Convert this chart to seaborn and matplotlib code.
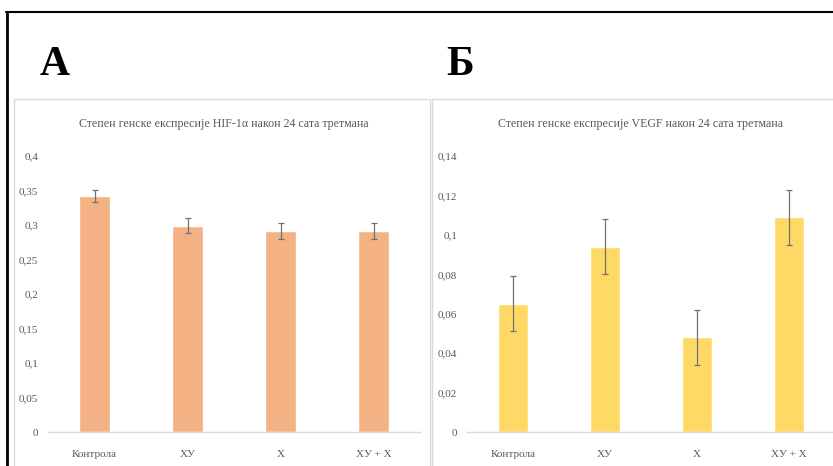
import matplotlib
matplotlib.use("Agg")
import matplotlib.pyplot as plt
from matplotlib.patches import Rectangle
from matplotlib.lines import Line2D
from matplotlib.ticker import FuncFormatter
import seaborn as sns
import pandas as pd

categories = ["Контрола", "ХУ", "Х", "ХУ + Х"]
hif_values = [0.342, 0.299, 0.291, 0.291]
hif_errors = [0.009, 0.011, 0.012, 0.012]
vegf_values = [0.065, 0.094, 0.048, 0.109]
vegf_errors = [0.014, 0.014, 0.014, 0.014]
hif_ticks = [0, 0.05, 0.1, 0.15, 0.2, 0.25, 0.3, 0.35, 0.4]
vegf_ticks = [0, 0.02, 0.04, 0.06, 0.08, 0.1, 0.12, 0.14]
hif_title = "Степен генске експресије HIF-1α након 24 сата третмана"
vegf_title = "Степен генске експресије VEGF након 24 сата третмана"
panel_labels = ["А", "Б"]

sns.set_theme(style="white")
plt.rcParams["font.family"] = ["Liberation Serif", "DejaVu Serif"]

W, H = 833, 466
fig = plt.figure(figsize=(W / 100, H / 100), dpi=100)
fig.patch.set_facecolor("white")

def fx(px):
    return px / W

def fy(py):
    return 1 - py / H

# outer frame (left and top edges)
fig.add_artist(Line2D([fx(7), fx(7)], [fy(12), fy(470)], color="black", lw=2.0,
                      transform=fig.transFigure))
fig.add_artist(Line2D([fx(6), fx(840)], [fy(12), fy(12)], color="black", lw=1.5,
                      transform=fig.transFigure))

# chart area boxes
for x0, x1 in [(14, 430), (432, 845)]:
    fig.add_artist(Rectangle((fx(x0), fy(470)), fx(x1) - fx(x0), fy(99) - fy(470),
                             transform=fig.transFigure, facecolor="white",
                             edgecolor="#d9d9d9", lw=1.0, zorder=0))

fig.text(fx(40), fy(65), panel_labels[0], fontsize=30, fontweight="bold",
         va="center", ha="left", color="black")
fig.text(fx(446), fy(65), panel_labels[1], fontsize=30, fontweight="bold",
         va="center", ha="left", color="black")

comma = FuncFormatter(lambda v, p: ("%g" % round(v, 4)).replace(".", ","))

def panel(x0, x1, values, errors, ticks, color, title, title_x):
    ax = fig.add_axes([fx(x0), fy(432), fx(x1) - fx(x0), fy(156) - fy(432)])
    df = pd.DataFrame({"group": categories, "value": values})
    sns.barplot(data=df, x="group", y="value", color=color, saturation=1,
                width=0.33, ax=ax, errorbar=None)
    ax.errorbar(range(len(values)), values, yerr=errors, fmt="none",
                ecolor="#707070", elinewidth=0.9, capsize=2.5, capthick=0.9)
    ax.set_ylim(0, ticks[-1])
    ax.set_xlim(-0.5, len(categories) - 0.5)
    ax.set_yticks(ticks)
    ax.yaxis.set_major_formatter(comma)
    ax.set_xlabel("")
    ax.set_ylabel("")
    for s in ["top", "right", "left"]:
        ax.spines[s].set_visible(False)
    ax.spines["bottom"].set_color("#d9d9d9")
    ax.spines["bottom"].set_linewidth(1.0)
    ax.tick_params(axis="both", length=0, labelsize=8, colors="#595959")
    ax.tick_params(axis="y", pad=7)
    ax.tick_params(axis="x", pad=13)
    ax.patch.set_alpha(0)
    fig.text(fx(title_x), fy(124), title, fontsize=8.6, color="#595959",
             ha="center", va="center")
    return ax

panel(48, 420, hif_values, hif_errors, hif_ticks, "#f4b183", hif_title, 224)
panel(467, 835, vegf_values, vegf_errors, vegf_ticks, "#ffd966", vegf_title, 640)

fig.savefig("out.png", dpi=100, facecolor="white")
